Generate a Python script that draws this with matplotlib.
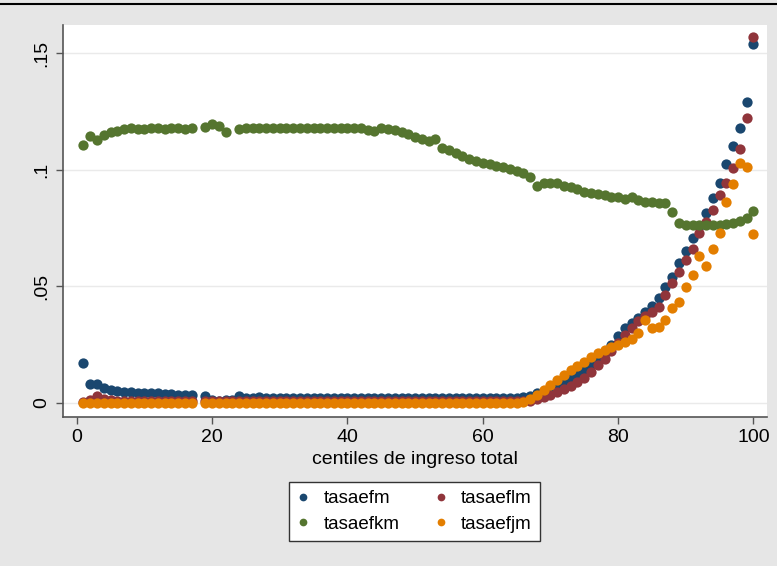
import numpy as np
import matplotlib.pyplot as plt

plt.rcParams['font.family'] = ['Liberation Sans', 'DejaVu Sans']

nan = np.nan
centiles = np.arange(1, 101)

# tasaefm (azul)
tasaefm = [
    .0171, .0081, .0080, .0064, .0056, .0050, .0047, .0045, .0044, .0043,
    .0041, .0040, .0038, .0036, .0035, .0033, .0032, nan, .0027, .0010,
    .0009, .0010, .0011, .0030, .0020, .0022, .0024, .0019, .0020, .0021,
    .0019, .0022, .0020, .0019, .0021, .0020, .0019, .0020, .0021, .0019,
    .0020, .0019, .0021, .0020, .0019, .0020, .0021, .0019, .0020, .0019,
    .0020, .0021, .0019, .0020, .0019, .0020, .0019, .0020, .0021, .0019,
    .0020, .0019, .0020, .0021, .0022, .0024, .0030, .0040, .0052, .0065,
    .0078, .0092, .0106, .0122, .0140, .0160, .0185, .0215, .0250, .0288,
    .0320, .0343, .0364, .0390, .0415, .0450, .0497, .0540, .0600, .0651,
    .0707, .0759, .0814, .0879, .0943, .1024, .1100, .1180, .1290, .1539,
]

# tasaeflm (granate)
tasaeflm = [
    .0005, .0012, .0028, .0016, .0010, .0008, .0008, .0007, .0008, .0008,
    .0007, .0008, .0008, .0007, .0008, .0008, .0007, nan, .0006, .0006,
    .0006, .0006, .0006, .0006, .0006, .0006, .0006, .0006, .0006, .0006,
    .0006, .0006, .0006, .0006, .0006, .0006, .0006, .0006, .0006, .0006,
    .0006, .0006, .0006, .0006, .0006, .0006, .0006, .0006, .0006, .0006,
    .0006, .0006, .0006, .0006, .0006, .0006, .0006, .0006, .0006, .0006,
    .0006, .0006, .0006, .0006, .0006, .0006, .0008, .0015, .0025, .0035,
    .0047, .0060, .0074, .0090, .0108, .0130, .0160, .0190, .0222, .0256,
    .0290, .0322, .0352, .0372, .0388, .0411, .0463, .0514, .0561, .0613,
    .0660, .0729, .0776, .0827, .0890, .0943, .1007, .1089, .1220, .1570,
]

# tasaefkm (verde)
tasaefkm = [
    .1106, .1144, .1127, .1150, .1160, .1168, .1176, .1178, .1176, .1175,
    .1177, .1178, .1176, .1178, .1178, .1176, .1177, nan, .1184, .1196,
    .1188, .1160, nan, .1176, .1178, .1177, .1180, .1179, .1180, .1178,
    .1181, .1179, .1180, .1178, .1181, .1180, .1179, .1181, .1180, .1179,
    .1178, .1179, .1170, .1168, .1178, .1176, .1170, .1160, .1152, .1140,
    .1130, .1122, .1132, .1095, .1086, .1072, .1058, .1045, .1038, .1030,
    .1025, .1018, .1012, .1005, .0995, .0985, .0968, .0930, .0943, .0944,
    .0942, .0932, .0926, .0918, .0906, .0900, .0896, .0891, .0884, .0882,
    .0874, .0882, .0870, .0862, .0861, .0858, .0856, .0820, .0772, .0764,
    .0763, .0762, .0763, .0762, .0764, .0766, .0772, .0782, .0792, .0823,
]

# tasaefjm (naranja)
tasaefjm = [0.0] * 65 + [
    .0003, .0015, .0035, .0056, .0078, .0099, .0120, .0141, .0158, .0176,
    .0195, .0212, .0226, .0240, .0250, .0261, .0275, .0300, .0356, .0320,
    .0326, .0356, .0407, .0433, .0497, .0549, .0630, .0587, .0660, .0729,
    .0861, .0939, .1029, .1011, .0724,
]
tasaefjm[17] = nan

series = [
    ("tasaefm", tasaefm, "#1a476f"),
    ("tasaeflm", tasaeflm, "#90353b"),
    ("tasaefkm", tasaefkm, "#55752f"),
    ("tasaefjm", tasaefjm, "#e37e00"),
]

fig = plt.figure(figsize=(7.77, 5.66), dpi=100, facecolor="#e6e6e6")
ax = fig.add_axes([63 / 777, 149 / 566, 704 / 777, 392 / 566])
ax.set_facecolor("white")

handles = {}
for nombre, valores, color in series:
    h, = ax.plot(centiles, valores, linestyle="none", marker="o", markersize=7.4,
                 color=color, markeredgewidth=0, label=nombre)
    handles[nombre] = h

ax.set_xlim(-2.02, 102.0)
ax.set_ylim(-0.0061, 0.1621)
ax.set_xticks([0, 20, 40, 60, 80, 100])
ax.set_yticks([0, 0.05, 0.1, 0.15])
ax.set_yticklabels(["0", ".05", ".1", ".15"], rotation=90, va="center")
ax.yaxis.grid(True, color="#eaeaea", linewidth=1)
ax.set_axisbelow(True)

for lado in ["top", "right"]:
    ax.spines[lado].set_visible(False)
for lado in ["left", "bottom"]:
    ax.spines[lado].set_color("#555555")
    ax.spines[lado].set_linewidth(1.2)
ax.tick_params(axis="both", labelsize=14, length=5, width=1, color="#555555", pad=4)

ax.set_xlabel("centiles de ingreso total", fontsize=14, labelpad=3)

orden = ["tasaefm", "tasaefkm", "tasaeflm", "tasaefjm"]
leg = fig.legend([handles[n] for n in orden], orden, ncol=2, loc="center",
                 bbox_to_anchor=(0.5335, 0.0963), fontsize=13.5, frameon=True,
                 fancybox=False, edgecolor="#333333", facecolor="white",
                 framealpha=1, markerscale=0.75,
                 handlelength=0.6, handletextpad=0.8, columnspacing=1.9,
                 labelspacing=0.45, borderpad=0.45)
leg.get_frame().set_linewidth(1)

# linea superior del marco
fig.add_artist(plt.Line2D([0, 1], [1 - 4 / 566, 1 - 4 / 566], color="black", linewidth=1.5))

fig.savefig("out.png", dpi=100, facecolor=fig.get_facecolor())
